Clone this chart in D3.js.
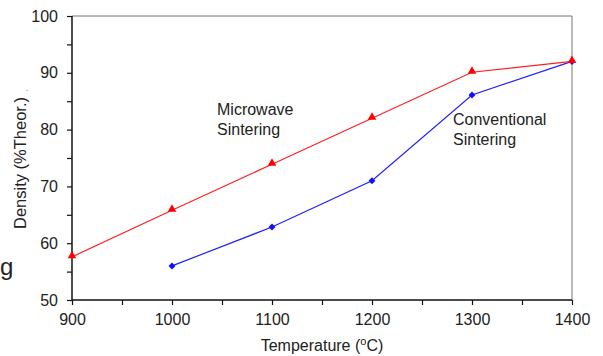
<!DOCTYPE html>
<html>
<head>
<meta charset="utf-8">
<script src="https://cdn.jsdelivr.net/npm/d3@7"></script>
<style>
  body { margin: 0; background: #fff; }
  text { font-family: "Liberation Sans", Arial, sans-serif; fill: #222; }
</style>
</head>
<body>
<div id="chart-area"></div>
<script>
const margin = { left: 72, right: 31, top: 16, bottom: 56 },
    width = 603 - margin.left - margin.right,
    height = 356 - margin.top - margin.bottom;

// data
const microTemp = [900, 1000, 1100, 1200, 1300, 1400];
const microDensity = [57.6, 65.8, 73.9, 82, 90.1, 92];
const convTemp = [1000, 1100, 1200, 1300, 1400];
const convDensity = [56, 62.85, 71, 86.1, 92];
const xTicks = [900, 1000, 1100, 1200, 1300, 1400];
const yTicks = [50, 60, 70, 80, 90, 100];

const svg = d3
    .select("#chart-area")
    .append("svg")
    .attr("width", 603)
    .attr("height", 356);

const g = svg
    .append("g")
    .attr("transform", `translate(${margin.left}, ${margin.top})`);

const x = d3.scaleLinear().domain([900, 1400]).range([0, width]);
const y = d3.scaleLinear().domain([50, 100]).range([height, 0]);

// frame (top + right, gray)
g.append("path")
    .attr("d", `M0,0H${width}V${height}`)
    .attr("fill", "none")
    .attr("stroke", "#777")
    .attr("stroke-width", 1);

// minor ticks every 50 / 5, labels only on majors
const xAxisCall = d3.axisBottom(x)
    .tickValues(d3.range(900, 1401, 50))
    .tickSize(5)
    .tickFormat(d => (xTicks.includes(d) ? d : ""));
const yAxisCall = d3.axisLeft(y)
    .tickValues(d3.range(50, 101, 5))
    .tickSize(5)
    .tickFormat(d => (yTicks.includes(d) ? d : ""));

const xAxis = g.append("g")
    .attr("transform", `translate(0,${height})`)
    .call(xAxisCall);
const yAxis = g.append("g").call(yAxisCall);

[xAxis, yAxis].forEach(a => {
    a.select(".domain").attr("stroke", "#111").attr("stroke-width", 1.5);
    a.selectAll(".tick line").attr("stroke", "#111").attr("stroke-width", 1.2);
    a.selectAll(".tick text")
        .attr("font-size", "16px")
        .attr("fill", "#222")
        .attr("font-family", "Liberation Sans, Arial, sans-serif");
});
xAxis.select(".domain").attr("d", `M0,0H${width}`);
yAxis.select(".domain").attr("d", `M0,0V${height}`);
xAxis.selectAll(".tick text").attr("y", 10).attr("dy", "0.95em");
yAxis.selectAll(".tick text").attr("x", -14);

// axis labels
const xLabel = g.append("text")
    .attr("x", width / 2)
    .attr("y", height + 51)
    .attr("text-anchor", "middle")
    .attr("font-size", "16px");
xLabel.append("tspan").text("Temperature (");
xLabel.append("tspan").attr("font-size", "11px").attr("dy", -6).text("o");
xLabel.append("tspan").attr("dy", 6).text("C)");

g.append("text")
    .attr("transform", "rotate(-90)")
    .attr("x", -147)
    .attr("y", -46)
    .attr("text-anchor", "middle")
    .attr("font-size", "16.5px")
    .text("Density (%Theor.)");
g.append("text")
    .attr("x", -46)
    .attr("y", 75)
    .attr("font-size", "7px")
    .text(".");

// stray glyph at left edge
svg.append("text")
    .attr("x", 0)
    .attr("y", 275)
    .attr("font-size", "24px")
    .text("g");

const line = d3.line()
    .x(d => x(d[0]))
    .y(d => y(d[1]));

const micro = microTemp.map((t, i) => [t, microDensity[i]]);
const conv = convTemp.map((t, i) => [t, convDensity[i]]);

g.append("path")
    .attr("d", line(conv))
    .attr("fill", "none")
    .attr("stroke", "#2020ff")
    .attr("stroke-width", 1.2);
g.selectAll(".conv")
    .data(conv)
    .enter()
    .append("path")
    .attr("class", "conv")
    .attr("transform", d => `translate(${x(d[0])},${y(d[1])}) rotate(45)`)
    .attr("d", d3.symbol().type(d3.symbolSquare).size(24))
    .attr("fill", "#1010ff");

g.append("path")
    .attr("d", line(micro))
    .attr("fill", "none")
    .attr("stroke", "#ff2020")
    .attr("stroke-width", 1.2);
g.selectAll(".micro")
    .data(micro)
    .enter()
    .append("path")
    .attr("class", "micro")
    .attr("transform", d => `translate(${x(d[0])},${y(d[1]) - 1})`)
    .attr("d", d3.symbol().type(d3.symbolTriangle).size(32))
    .attr("fill", "#ff0000");

// annotations
const ann = [
    { lines: ["Microwave", "Sintering"], x: 145, y: 99 },
    { lines: ["Conventional", "Sintering"], x: 381, y: 109 },
];
ann.forEach(a => {
    a.lines.forEach((s, i) => {
        g.append("text")
            .attr("x", a.x)
            .attr("y", a.y + i * 20)
            .attr("font-size", "16px")
            .text(s);
    });
});
</script>
</body>
</html>
